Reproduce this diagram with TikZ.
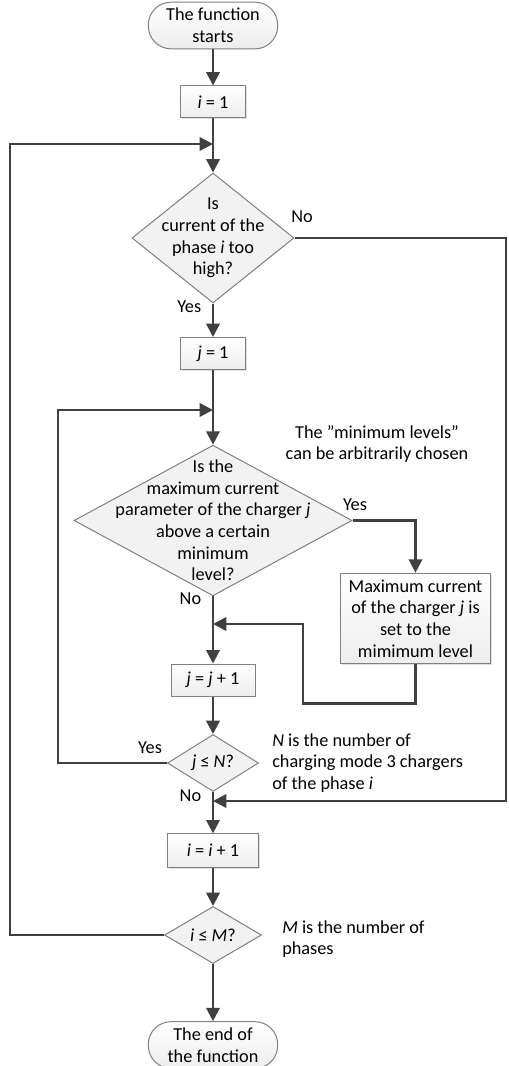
\documentclass[tikz,border=0pt]{standalone}
\usepackage{fontspec}
\setmainfont{Carlito}
\usetikzlibrary{arrows.meta,positioning,shapes.geometric,shadows}
\definecolor{Edge}{HTML}{808080}
\definecolor{Wire}{HTML}{404040}
\definecolor{Shade}{HTML}{EDEDED}
\tikzset{
  base/.style={draw=Edge,line width=0.75pt,inner sep=0pt,align=center,
    font=\fontsize{13.7}{16.2}\selectfont},
  term/.style={base,rounded corners=17pt,top color=white,bottom color=Shade,
    minimum width=97pt,minimum height=35pt},
  proc/.style={base,top color=white,bottom color=Shade,minimum height=24pt,
    drop shadow={shadow xshift=1pt,shadow yshift=-1pt,opacity=0.25}},
  dec/.style={base,diamond,fill=Shade!70},
  txt/.style={align=center,inner sep=0pt,font=\fontsize{13.7}{16.2}\selectfont},
  note/.style={txt,align=left},
  wire/.style={draw=Wire,line width=1.8pt},
  arr/.style={wire,-{Triangle[length=10pt,width=10pt]}}
}
\begin{document}
\begin{tikzpicture}[x=0.75pt,y=-0.75pt]
  \useasboundingbox (0,0) rectangle (508,1066);
  % main column
  \node[term] (start) at (213,25.5) {The function\\starts};
  \node[proc,minimum width=49pt] (b1) at (213,102) {\textit{i} = 1};
  \node[dec,minimum width=121.5pt,minimum height=97.5pt] (q1) at (213,238) {};
  \node[txt] (q1t) at (q1) {Is\\current of the\\phase \textit{i} too\\high?};
  \node[proc,minimum width=49pt] (b2) at (213,353.5) {\textit{j} = 1};
  \node[dec,minimum width=208.5pt,minimum height=113pt] (q2) at (213,520.5) {};
  \node[txt] (q2t) at (q2) {Is the\\maximum current\\parameter of the charger \textit{j}\\above a certain\\minimum\\level?};
  \node[proc,minimum width=113pt,minimum height=68pt] (mx) at (415.5,618.5)
    {Maximum current\\of the charger \textit{j} is\\set to the\\mimimum level};
  \node[proc,minimum width=63pt] (b3) at (213,680) {\textit{j} = \textit{j} + 1};
  \node[dec,minimum width=68.25pt,minimum height=42.75pt] (q3) at (213,763) {};
  \node[txt] (q3t) at (q3) {\textit{j} ≤ \textit{N}?};
  \node[proc,minimum width=68pt,minimum height=25pt] (b4) at (213,850.5) {\textit{i} = \textit{i} + 1};
  \node[dec,minimum width=72.75pt,minimum height=42.75pt] (q4) at (213,935) {};
  \node[txt] (q4t) at (q4) {\textit{i} ≤ \textit{M}?};
  \node[term] (end) at (213,1045) {The end of\\the function};

  % notes
  \node[txt] (n1) at (377,444) {The ”minimum levels”\\can be arbitrarily chosen};
  \node[note,anchor=west] (n2) at (272,763) {\textit{N} is the number of\\charging mode 3 chargers\\of the phase \textit{i}};
  \node[note,anchor=west] (n3) at (282,939) {\textit{M} is the number of\\phases};

  % joints
  \coordinate (m1) at (213,144);
  \coordinate (m2) at (213,410);
  \coordinate (m3) at (213,624);
  \coordinate (m4) at (213,801);
  \coordinate (lx) at (10,0);
  \coordinate (lx2) at (58,0);
  \coordinate (rx) at (506,0);

  % connectors
  \draw[arr] (start) -- (b1);
  \draw[arr] (b1) -- (q1);
  \draw[arr] (q1) -- (b2) node[txt,pos=0.1,left=8pt] (y1) {Yes};
  \draw[arr] (b2) -- (q2);
  \draw[arr] (q2) -- (b3) node[txt,pos=0.04,left=8pt] (n2l) {No};
  \draw[arr] (b3) -- (q3);
  \draw[arr] (q3) -- (b4) node[txt,pos=0.1,left=8pt] (n3l) {No};
  \draw[arr] (b4) -- (q4);
  \draw[arr] (q4) -- (end);
  \draw[arr] (q1.east) -- (q1.east -| rx) |- (m4);
  \node[txt] (n1l) at (302,217) {No};
  \draw[arr] (q2.east) -| (mx.north);
  \node[txt] (y2) at (355,505) {Yes};
  \draw[arr] (mx.south) -- ++(0,39) -| (303,624) -- (m3);
  \draw[arr] (q3.west) -- (q3.west -| lx2) |- (m2);
  \node[txt] (y3) at (150,748) {Yes};
  \draw[arr] (q4.west) -- (q4.west -| lx) |- (m1);
\end{tikzpicture}
\end{document}
